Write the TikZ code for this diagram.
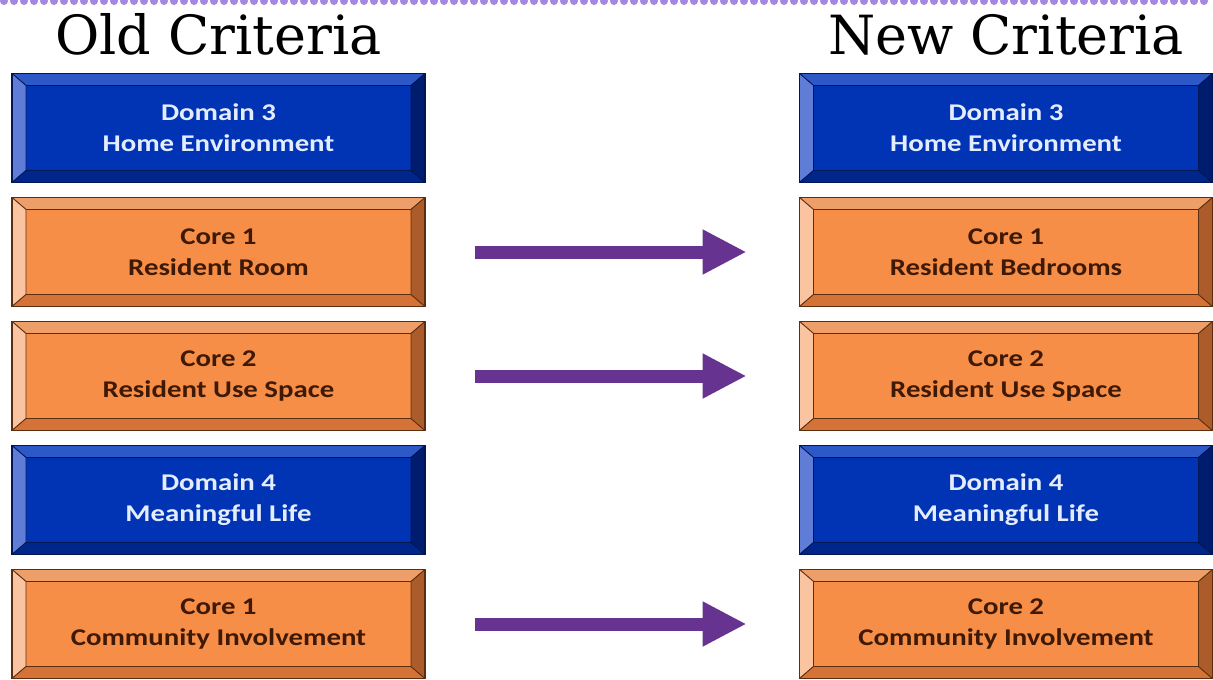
\documentclass[tikz,border=0pt]{standalone}
\usepackage{fontspec}
\newfontfamily\titlefont{DejaVu Serif}
\newfontfamily\boxfont[FakeStretch=1.2]{Carlito}
\usetikzlibrary{arrows.meta,positioning}

\definecolor{domface}{RGB}{0,52,180}
\definecolor{domtop}{RGB}{45,88,200}
\definecolor{domleft}{RGB}{95,125,215}
\definecolor{dombot}{RGB}{0,38,140}
\definecolor{domright}{RGB}{0,28,110}
\definecolor{domedge}{RGB}{0,22,85}
\definecolor{domtext}{RGB}{228,236,255}
\definecolor{coreface}{RGB}{246,142,72}
\definecolor{coretop}{RGB}{238,158,105}
\definecolor{coreleft}{RGB}{250,196,160}
\definecolor{corebot}{RGB}{212,114,55}
\definecolor{coreright}{RGB}{172,92,42}
\definecolor{coreedge}{RGB}{92,46,16}
\definecolor{coretext}{RGB}{62,26,6}
\definecolor{arrowpurple}{RGB}{102,51,145}
\definecolor{dotpurple}{RGB}{165,135,225}

% bevel faces: top, left, bottom, right, edge colour
\newcommand{\bevelfaces}[5]{%
  \path (path picture bounding box.north west) coordinate (nw)
        (path picture bounding box.north east) coordinate (ne)
        (path picture bounding box.south west) coordinate (sw)
        (path picture bounding box.south east) coordinate (se)
        ([shift={(10.5pt,-9pt)}]nw) coordinate (inw)
        ([shift={(-10.5pt,-9pt)}]ne) coordinate (ine)
        ([shift={(10.5pt,9pt)}]sw) coordinate (isw)
        ([shift={(-10.5pt,9pt)}]se) coordinate (ise);
  \filldraw[fill=#1,draw=#5,line width=0.6pt] (nw) -- (ne) -- (ine) -- (inw) -- cycle;
  \filldraw[fill=#2,draw=#5,line width=0.6pt] (nw) -- (inw) -- (isw) -- (sw) -- cycle;
  \filldraw[fill=#3,draw=#5,line width=0.6pt] (sw) -- (isw) -- (ise) -- (se) -- cycle;
  \filldraw[fill=#4,draw=#5,line width=0.6pt] (se) -- (ise) -- (ine) -- (ne) -- cycle;
}

\begin{document}
\begin{tikzpicture}[x=0.75pt,y=-0.75pt,node distance=11.25pt and 280.875pt,
    critbox/.style={rectangle,minimum width=309.75pt,minimum height=81.75pt,
      inner sep=0pt,outer sep=0pt,line width=0.8pt,align=center,
      font=\boxfont\bfseries\fontsize{18}{23.25}\selectfont},
    domainbox/.style={critbox,fill=domface,draw=domedge,text=domtext,
      path picture={\bevelfaces{domtop}{domleft}{dombot}{domright}{domedge}}},
    corebox/.style={critbox,fill=coreface,draw=coreedge,text=coretext,
      path picture={\bevelfaces{coretop}{coreleft}{corebot}{coreright}{coreedge}}},
    heading/.style={inner sep=0pt,font=\titlefont\fontsize{40.5}{48}\selectfont},
    change/.style={color=arrowpurple,line width=9.75pt,
      -{Triangle[length=33pt,width=31.5pt]},shorten <=37.5pt,shorten >=39.75pt},
    dotrow/.style={draw=dotpurple,line width=6pt,line cap=round,dash pattern=on 0pt off 7.5pt}]
  \useasboundingbox (0,0) rectangle (1213,679);

  \draw[dotrow] (4,1) -- (1213,1);

  \node[domainbox] (o1) at (218.5,128) {Domain 3\\Home Environment};
  \node[corebox] (o2) [below=of o1] {Core 1\\Resident Room};
  \node[corebox] (o3) [below=of o2] {Core 2\\Resident Use Space};
  \node[domainbox] (o4) [below=of o3] {Domain 4\\Meaningful Life};
  \node[corebox] (o5) [below=of o4] {Core 1\\Community Involvement};

  \node[domainbox] (n1) [right=of o1] {Domain 3\\Home Environment};
  \node[corebox] (n2) [right=of o2] {Core 1\\Resident Bedrooms};
  \node[corebox] (n3) [right=of o3] {Core 2\\Resident Use Space};
  \node[domainbox] (n4) [right=of o4] {Domain 4\\Meaningful Life};
  \node[corebox] (n5) [right=of o5] {Core 2\\Community Involvement};

  \node[heading] (oldhead) [above=13.5pt of o1] {Old Criteria};
  \node[heading] (newhead) [above=13.5pt of n1] {New Criteria};

  \draw[change] (o2) -- (n2);
  \draw[change] (o3) -- (n3);
  \draw[change] (o5) -- (n5);
\end{tikzpicture}
\end{document}
